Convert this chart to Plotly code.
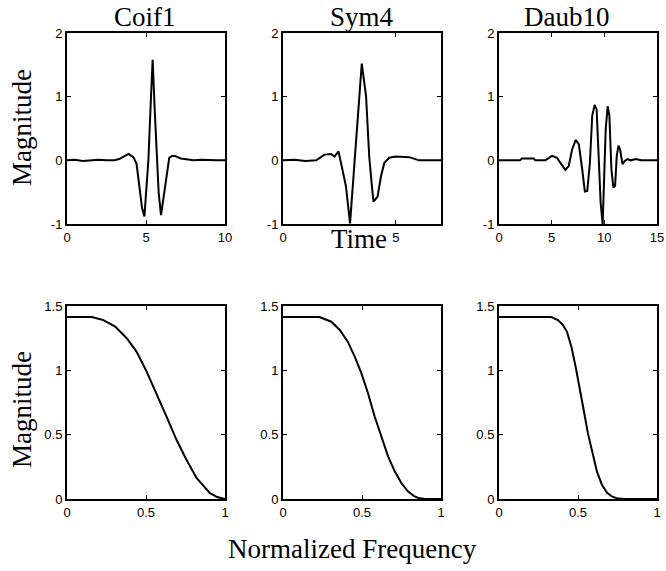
import plotly.graph_objects as go
from plotly.subplots import make_subplots

W, H = 666, 571

# ---- data ----
titles = ["Coif1", "Sym4", "Daub10"]

coif1_t = [0, 0.5, 1, 1.5, 2, 2.5, 3, 3.3, 3.6, 3.9, 4.2, 4.4, 4.6, 4.75, 4.9, 5.0, 5.15, 5.3,
           5.42, 5.55, 5.67, 5.8, 5.95, 6.1, 6.26, 6.47, 6.65, 6.83, 7.2, 7.6, 8, 8.5, 9, 9.5, 10]
coif1_v = [0, 0.01, -0.01, 0.0, 0.01, 0, 0.0, 0.02, 0.06, 0.10, 0.05, -0.05, -0.45, -0.75, -0.88,
           -0.5, 0.0, 0.9, 1.58, 0.8, 0.05, -0.5, -0.86, -0.6, -0.25, 0.04, 0.07, 0.07, 0.03, 0.01,
           0.0, 0.01, 0, 0.0, 0.0]

sym4_t = [0, 0.5, 1.0, 1.47, 1.84, 2.13, 2.28, 2.46, 2.57, 2.79, 2.97, 3.16, 3.31, 3.49, 3.68,
          3.82, 3.94, 4.01, 4.19, 4.34, 4.49, 4.71, 5.0, 5.59, 6.03, 7.0]
sym4_v = [0, 0.01, -0.01, 0.0, 0.09, 0.10, 0.06, 0.14, -0.04, -0.41, -0.99, -0.04, 0.75, 1.52,
          1.01, 0.06, -0.41, -0.65, -0.57, -0.25, -0.04, 0.04, 0.06, 0.05, 0.0, 0.0]

daub10_t = [0, 2.0, 2.17, 3.3, 3.44, 4.4, 5.03, 5.5, 5.83, 6.3, 6.62, 6.94, 7.29, 7.58, 7.9, 8.15,
            8.38, 8.63, 8.85, 9.08, 9.27, 9.49, 9.65, 9.84, 9.97, 10.13, 10.32, 10.48, 10.67,
            10.86, 11.02, 11.18, 11.34, 11.5, 11.72, 11.94, 12.2, 12.5, 13.0, 13.47, 14.0, 15.0]
daub10_v = [0, 0, 0.03, 0.03, 0, 0, 0.07, 0.04, -0.04, -0.15, -0.09, 0.17, 0.32, 0.25, -0.14,
            -0.49, -0.48, -0.04, 0.7, 0.87, 0.8, -0.04, -0.67, -1.0, -0.4, 0.49, 0.85, 0.7, -0.14,
            -0.43, -0.4, 0.07, 0.23, 0.17, -0.06, -0.01, 0.02, 0.0, 0.02, 0.0, 0.0, 0.0]

coif1_f = [0, 0.158, 0.23, 0.305, 0.378, 0.44, 0.504, 0.567, 0.63, 0.693, 0.756, 0.82, 0.882,
           0.903, 0.95, 1.0]
coif1_m = [1.414, 1.414, 1.39, 1.34, 1.25, 1.146, 0.99, 0.82, 0.64, 0.46, 0.305, 0.163, 0.072,
           0.047, 0.015, 0.0]

sym4_f = [0, 0.23, 0.306, 0.359, 0.41, 0.454, 0.496, 0.538, 0.58, 0.622, 0.665, 0.707, 0.749,
          0.79, 0.833, 0.865, 0.9, 1.0]
sym4_m = [1.414, 1.414, 1.378, 1.314, 1.223, 1.107, 0.978, 0.822, 0.641, 0.486, 0.331, 0.215,
          0.124, 0.06, 0.02, 0.005, 0.0, 0.0]

daub10_f = [0, 0.331, 0.373, 0.405, 0.43, 0.458, 0.485, 0.51, 0.536, 0.563, 0.591, 0.62, 0.652,
            0.684, 0.717, 0.753, 0.8, 1.0]
daub10_m = [1.414, 1.414, 1.39, 1.352, 1.3, 1.184, 1.028, 0.873, 0.692, 0.51, 0.355, 0.212,
            0.109, 0.049, 0.018, 0.003, 0.0, 0.0]

time_ranges = [[0, 10], [0, 7], [0, 15]]
time_ticks = [[0, 5, 10], [0, 5], [0, 5, 10, 15]]
mag_ticks_top = [-1, 0, 1, 2]
freq_ticks = [0, 0.5, 1]
freq_tick_labels = ["0", "0.5", "1"]
mag_ticks_bot = [0, 0.5, 1, 1.5]
mag_tick_labels_bot = ["0", "0.5", "1", "1.5"]

top_series = [(coif1_t, coif1_v), (sym4_t, sym4_v), (daub10_t, daub10_v)]
bot_series = [(coif1_f, coif1_m), (sym4_f, sym4_m), (daub10_f, daub10_m)]

# ---- layout geometry (pixels in the 666x571 window) ----
col_px = [(67, 225), (283, 441), (499, 657)]
top_px = (33, 224)
bot_px = (306, 499)

def px(x):
    return x / W

def py(y):
    return 1 - y / H

def xd(a, b):
    return [px(a), px(b)]

def yd(top, bottom):
    return [py(bottom), py(top)]

fig = make_subplots(rows=2, cols=3)

line_style = dict(color="black", width=2)
for c in range(3):
    t, v = top_series[c]
    fig.add_trace(go.Scatter(x=t, y=v, mode="lines", line=line_style, showlegend=False),
                  row=1, col=c + 1)
    f, m = bot_series[c]
    fig.add_trace(go.Scatter(x=f, y=m, mode="lines", line=line_style, showlegend=False),
                  row=2, col=c + 1)

tick_font = dict(family="Liberation Sans, Arial", size=13, color="black")
axis_common = dict(showline=True, linecolor="black", linewidth=2, mirror="ticks",
                   ticks="inside", ticklen=4, tickcolor="black", tickwidth=1,
                   showgrid=False, zeroline=False, tickfont=tick_font, automargin=False)

for c in range(3):
    fig.update_xaxes(domain=xd(*col_px[c]), range=time_ranges[c], tickvals=time_ticks[c],
                     row=1, col=c + 1, **axis_common)
    fig.update_yaxes(domain=yd(*top_px), range=[-1, 2], tickvals=mag_ticks_top,
                     ticktext=[str(v) for v in mag_ticks_top], row=1, col=c + 1, **axis_common)
    fig.update_xaxes(domain=xd(*col_px[c]), range=[0, 1], tickvals=freq_ticks,
                     ticktext=freq_tick_labels, row=2, col=c + 1, **axis_common)
    fig.update_yaxes(domain=yd(*bot_px), range=[0, 1.5], tickvals=mag_ticks_bot,
                     ticktext=mag_tick_labels_bot, row=2, col=c + 1, **axis_common)

serif = dict(family="Liberation Serif, Times New Roman", size=27, color="black")
ann = []
title_cx = [145, 362, 566]
for c in range(3):
    ann.append(dict(text=titles[c], x=px(title_cx[c]), y=py(17), xref="paper", yref="paper",
                    showarrow=False, font=serif, xanchor="center", yanchor="middle"))
ann.append(dict(text="Time", x=px(359), y=py(239), xref="paper", yref="paper",
                showarrow=False, font=serif, xanchor="center", yanchor="middle"))
ann.append(dict(text="Normalized Frequency", x=px(352), y=py(549), xref="paper",
                yref="paper", showarrow=False, font=serif, xanchor="center", yanchor="middle"))
ann.append(dict(text="Magnitude", x=px(22), y=py(128), xref="paper", yref="paper",
                showarrow=False, font=serif, textangle=-90, xanchor="center", yanchor="middle"))
ann.append(dict(text="Magnitude", x=px(22), y=py(410), xref="paper", yref="paper",
                showarrow=False, font=serif, textangle=-90, xanchor="center", yanchor="middle"))

fig.update_layout(template="none", width=W, height=H, margin=dict(l=0, r=0, t=0, b=0),
                  paper_bgcolor="white", plot_bgcolor="white", annotations=ann,
                  showlegend=False)

# remove the default 8px page margin so the 666x571 figure fills the window exactly
fig.write_html("out.html", config={"displayModeBar": False},
               post_script="document.body.style.margin='0';")
